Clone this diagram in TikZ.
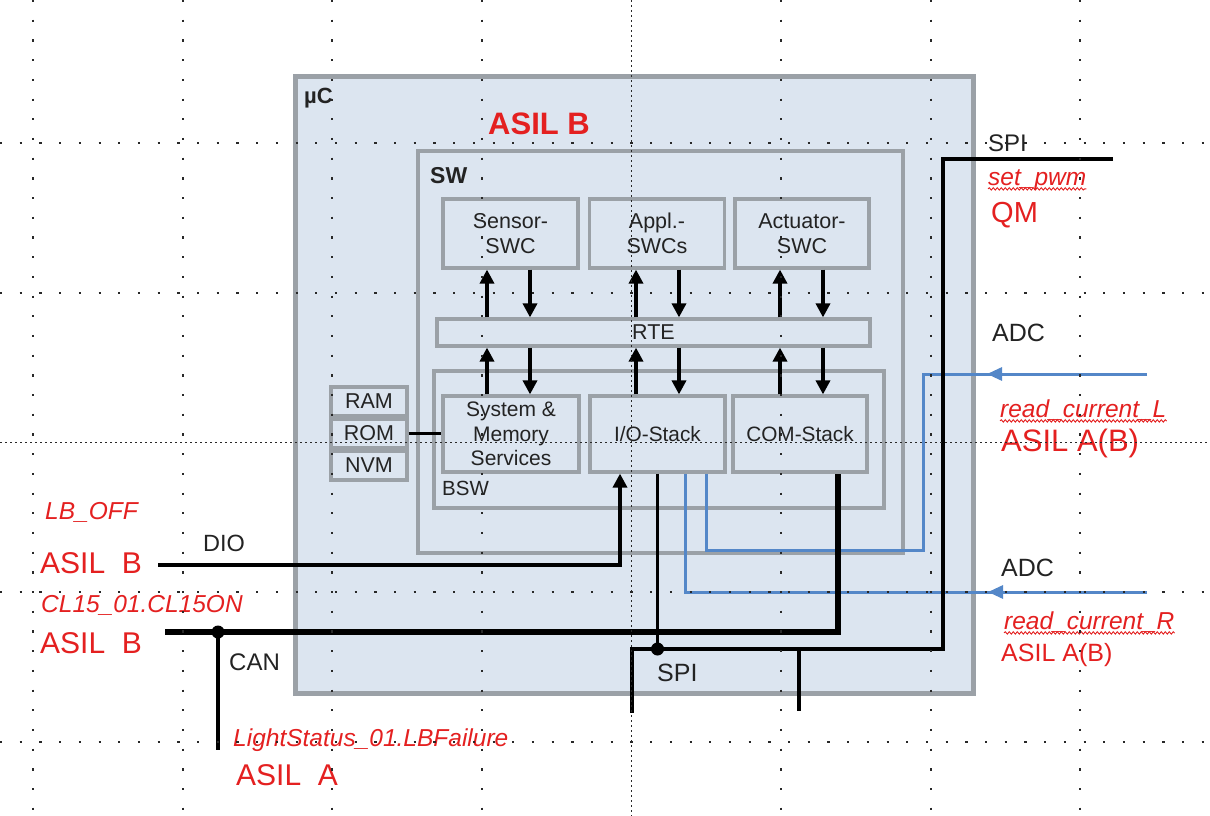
\documentclass[tikz,border=0pt]{standalone}
\usepackage{fontspec}
\setmainfont{Liberation Sans}
\usetikzlibrary{arrows.meta,decorations.pathmorphing,decorations.markings}
\definecolor{boxfill}{RGB}{220,229,240}
\definecolor{boxline}{RGB}{155,161,167}
\definecolor{asilred}{RGB}{228,32,32}
\definecolor{sigblue}{RGB}{84,135,200}
\definecolor{txt}{RGB}{35,35,35}
\definecolor{griddot}{RGB}{40,40,40}
\begin{document}
\begin{tikzpicture}[x=1pt,y=-1pt,
  box/.style={draw=boxline,line width=3.2pt,fill=boxfill,inner sep=0pt,align=center,text=txt,font=\fontsize{21.5}{25}\selectfont},
  lbl/.style={inner sep=0pt,anchor=west,text=txt,font=\fontsize{24}{28}\selectfont},
  redlbl/.style={inner sep=0pt,anchor=west,text=asilred,font=\fontsize{24.5}{28}\selectfont\itshape},
  asil/.style={inner sep=0pt,anchor=west,text=asilred,font=\fontsize{30}{34}\selectfont},
  arr/.style={line width=3.4pt,-{Triangle[length=14pt,width=14pt]}},
  wire/.style={line width=3.4pt},
  bus/.style={line width=6.5pt},
  sig/.style={draw=sigblue,line width=3pt},
  wavy/.style={draw=asilred,line width=0.9pt,decorate,decoration={snake,amplitude=1.2pt,segment length=4pt}},
  gridl/.style={draw=griddot,line width=2.2pt,dash pattern=on 2.2pt off 17.5pt},
  gridd/.style={draw=griddot,line width=1.8pt,dash pattern=on 1.8pt off 3.2pt},
  jdot/.style={circle,fill=black,inner sep=0pt,minimum size=13pt},
]
\fill[white] (0,0) rectangle (1210,816);
\useasboundingbox (0,0) rectangle (1210,816);

% microcontroller
\node[box,line width=5pt,minimum width=678pt,minimum height=616pt] (uc) at (634,385) {};
\node[anchor=west,inner sep=0pt,text=txt,font=\bfseries\fontsize{22}{26}\selectfont] (uclbl) at (304,98) {µC};
\node[inner sep=0pt,text=asilred,font=\bfseries\fontsize{31}{35}\selectfont] (asiltop) at (539,124) {ASIL B};

% SW
\node[box,minimum width=485pt,minimum height=402pt] (sw) at (660.5,352) {};
\node[anchor=west,inner sep=0pt,text=txt,font=\bfseries\fontsize{23}{26}\selectfont] (swlbl) at (430,176) {SW};

\node[box,minimum width=135pt,minimum height=69pt] (sensor) at (510.5,233.5) {Sensor-\\SWC};
\node[box,minimum width=135pt,minimum height=69pt] (appl) at (657,233.5) {Appl.-\\SWCs};
\node[box,minimum width=134pt,minimum height=69pt] (act) at (802,233.5) {Actuator-\\SWC};
\node[box,minimum width=433pt,minimum height=27pt] (rte) at (653.5,332.5) {RTE};

\node[box,minimum width=450pt,minimum height=137pt] (bsw) at (659,439.5) {};
\node[anchor=west,inner sep=0pt,text=txt,font=\fontsize{20.5}{24}\selectfont] (bswlbl) at (442,488) {BSW};
\node[box,minimum width=136pt,minimum height=76pt,font=\fontsize{21}{24.5}\selectfont] (sysmem) at (511,434) {System \&\\Memory\\Services};
\node[box,minimum width=135pt,minimum height=76pt,font=\fontsize{20.8}{24}\selectfont] (io) at (657.5,434) {I/O-Stack};
\node[box,minimum width=134pt,minimum height=76pt,font=\fontsize{20.8}{24}\selectfont] (com) at (800,434) {COM-Stack};

\node[box,minimum width=76pt,minimum height=29pt] (ram) at (369,401.5) {RAM};
\node[box,minimum width=76pt,minimum height=29pt] (rom) at (369,433.5) {ROM};
\node[box,minimum width=76pt,minimum height=29pt] (nvm) at (369,465.5) {NVM};

% RTE arrows
\draw[arr] ([xshift=-23.5pt]sensor.south |- rte.north) -- ([xshift=-23.5pt]sensor.south);
\draw[arr] ([xshift=19.5pt]sensor.south) -- ([xshift=19.5pt]sensor.south |- rte.north);
\draw[arr] ([xshift=-21pt]appl.south |- rte.north) -- ([xshift=-21pt]appl.south);
\draw[arr] ([xshift=22pt]appl.south) -- ([xshift=22pt]appl.south |- rte.north);
\draw[arr] ([xshift=-22pt]act.south |- rte.north) -- ([xshift=-22pt]act.south);
\draw[arr] ([xshift=21pt]act.south) -- ([xshift=21pt]act.south |- rte.north);

\draw[arr] ([xshift=-24pt]sysmem.north) -- ([xshift=-24pt]sysmem.north |- rte.south);
\draw[arr] ([xshift=19pt]sysmem.north |- rte.south) -- ([xshift=19pt]sysmem.north);
\draw[arr] ([xshift=-21.5pt]io.north) -- ([xshift=-21.5pt]io.north |- rte.south);
\draw[arr] ([xshift=21.5pt]io.north |- rte.south) -- ([xshift=21.5pt]io.north);
\draw[arr] ([xshift=-20pt]com.north) -- ([xshift=-20pt]com.north |- rte.south);
\draw[arr] ([xshift=23pt]com.north |- rte.south) -- ([xshift=23pt]com.north);

\draw[wire] (rom.east) -- (sysmem.west |- rom.east);

% blue ADC signals
\coordinate (adcL) at (1147,374);
\coordinate (adcR) at (1147,592);
\draw[sig,postaction={decorate},decoration={markings,mark=at position 160pt with {\arrow{Triangle[length=15pt,width=13pt,color=sigblue]}}}]
  (adcL) -| (923,550) -| ([xshift=48.5pt]io.south);
\draw[sig,postaction={decorate},decoration={markings,mark=at position 159pt with {\arrow{Triangle[length=15pt,width=13pt,color=sigblue]}}}]
  (adcR) -| ([xshift=27.5pt]io.south);

% DIO
\coordinate (dioL) at (158,565);
\draw[arr] (dioL) -| ([xshift=-37.5pt]io.south);

% CAN
\coordinate (canL) at (165,632);
\coordinate (lsEnd) at (218,750);
\node[jdot] (canj) at (218,632) {};
\draw[bus] (canL) -| ([xshift=38pt]com.south);
\draw[wire] (canj.center) -- (lsEnd);

% SPI
\coordinate (spiR) at (1113,159);
\coordinate (spiB) at (632,713);
\coordinate (spiD) at (799,711);
\node[jdot] (spij) at (657.5,649) {};
\draw[wire] (spiR) -- (943,159) -- (943,649) -- (632,649) -- (spiB);
\draw[wire] (io.south) -- (spij.center);
\draw[wire] (spiD |- spij) -- (spiD);

% right labels
\node[lbl] (spilbl) at (988,143) {SPI};
\node[redlbl] (setpwm) at (988,180) {set\_pwm};
\draw[wavy] ([yshift=-3.5pt]setpwm.base west) -- ([yshift=-3.5pt]setpwm.base east);
\node[asil,font=\fontsize{29}{33}\selectfont] (qm) at (991,215) {QM};
\node[lbl,font=\fontsize{25}{28}\selectfont] (adc1) at (992,333) {ADC};
\node[redlbl] (rcl) at (1000,410) {read\_current\_L};
\draw[wavy] ([yshift=-3.5pt]rcl.base west) -- ([yshift=-3.5pt]rcl.base east);
\node[asil,font=\fontsize{31}{34}\selectfont] (asilab1) at (1001,443) {ASIL A(B)};
\node[lbl,font=\fontsize{25}{28}\selectfont] (adc2) at (1001,568) {ADC};
\node[redlbl] (rcr) at (1004,622) {read\_current\_R};
\draw[wavy] ([yshift=-3.5pt]rcr.base west) -- ([yshift=-3.5pt]rcr.base east);
\node[asil,font=\fontsize{25}{28}\selectfont] (asilab2) at (1001,655) {ASIL A(B)};
\node[lbl,font=\fontsize{25}{28}\selectfont] (spibot) at (657,673) {SPI};

% left labels
\node[redlbl] (lboff) at (45,512) {LB\_OFF};
\node[asil] (asilb1) at (40,563) {ASIL~~B};
\node[lbl,font=\fontsize{23.5}{28}\selectfont] (diolbl) at (203,543) {DIO};
\node[redlbl] (cl15) at (41,605) {CL15\_01.CL15ON};
\node[asil] (asilb2) at (40,643) {ASIL~~B};
\node[lbl] (canlbl) at (229,662) {CAN};
\node[redlbl] (lsf) at (233,740) {LightStatus\_01.LBFailure};
\node[asil] (asila) at (236,775) {ASIL~~A};

% dotted grid
\foreach \gx in {33,182.6,332.2,481.8,781,930.6,1080.2}
  \draw[gridl] (\gx,0) -- (\gx,816);
\draw[gridd] (631.4,0) -- (631.4,816);
\foreach \gy in {143,292.7,592,741.8}
  \draw[gridl] (0,\gy) -- (1210,\gy);
\draw[gridd] (0,442.4) -- (1210,442.4);
\end{tikzpicture}
\end{document}
